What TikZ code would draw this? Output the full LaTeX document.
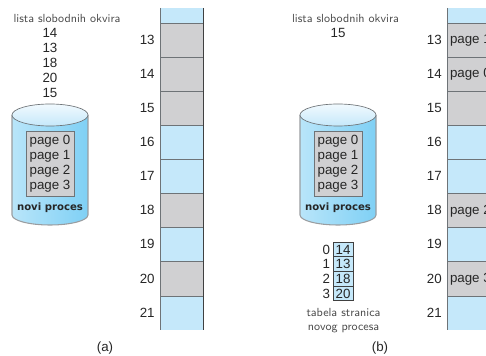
\documentclass[tikz,border=0pt]{standalone}
\usepackage{fontspec}
\setmainfont{Liberation Sans}
\newfontfamily\boldnote{DejaVu Sans}
\usetikzlibrary{positioning}
\definecolor{memblue}{HTML}{C5E8FA}
\definecolor{memgray}{HTML}{D0D0D2}
\definecolor{lineGray}{HTML}{6E7377}
\definecolor{diskedge}{HTML}{7FD0F5}
\definecolor{disklight}{HTML}{E8F6FE}
\tikzset{
  basic/.style   = {inner sep=0pt, outer sep=0pt},
  mem/.style     = {basic, minimum width=32.25pt, minimum height=25.6pt},
  memtop/.style  = {mem, minimum height=11.25pt},
  num/.style     = {basic, font=\fontsize{10}{12}\selectfont, text=black!85},
  note/.style    = {basic, font=\sffamily\fontsize{8.8}{10.5}\selectfont, text=black!70, align=center},
  pagebox/.style = {basic, draw=lineGray, line width=0.7pt, fill=memgray, align=center,
                    font=\fontsize{10}{11.25}\selectfont, text=black!85,
                    minimum width=36pt, minimum height=48.75pt,
                    execute at begin node={\rule{0pt}{10.2pt}}},
  cell/.style    = {basic, draw=black!75, line width=0.5pt, fill=memblue, minimum width=15pt,
                    minimum height=11pt, font=\fontsize{10}{11}\selectfont, text=black!85}
}

\begin{document}
\begin{tikzpicture}[x=0.75pt,y=-0.75pt]
\useasboundingbox (0,0) rectangle (486,356);
\clip (0,0) rectangle (486,356);

% the two cases, a on the left and b on the right
\foreach \s/\dx/\mx in {a/50/160,b/338/447} {
  % disk with the new process
  \shade[left color=diskedge!55, middle color=disklight, right color=diskedge]
    (\dx-38,115) -- (\dx-38,215) arc[start angle=180, end angle=0, x radius=38, y radius=10]
    -- (\dx+38,115) -- cycle;
  \draw[lineGray!70, line width=0.8pt]
    (\dx-38,115) -- (\dx-38,215) arc[start angle=180, end angle=0, x radius=38, y radius=10]
    -- (\dx+38,115);
  \draw[lineGray, line width=0.5pt, top color=disklight!60, bottom color=memblue]
    (\dx,115) ellipse[x radius=38, y radius=11];
  \node[pagebox] (\s box) at (\dx,163.5) {page 0\\page 1\\page 2\\page 3};
  \node[note, font=\boldnote\bfseries\fontsize{7.6}{9}\selectfont, text=black!85] (\s name) at (\dx,207.5) {novi proces};

  % memory frames
  \node[memtop, anchor=north west, fill=memblue] (\s12) at (\mx,8) {};
  \foreach \n/\col [remember=\n as \prev (initially 12)] in
      {13/memgray,14/memgray,15/memgray,16/memblue,17/memblue,18/memgray,19/memblue,20/memgray,21/memblue} {
    \node[mem, fill=\col, below=0pt of \s\prev] (\s\n) {};
    \node[num, left=4pt of \s\n, yshift=0.4pt] (\s num\n) {\n};
    \draw[lineGray, line width=0.7pt] (\s\n.north west) -- (\s\n.north east);
  }
  \draw[lineGray, line width=0.6pt] (\s12.north west) -- (\s21.south west);
  \draw[black!75, line width=0.6pt] (\s12.north east) -- (\s21.south east);
}

% free frame lists
\node[note] (lista a) at (67,18) {lista slobodnih okvira};
\foreach \v [count=\i from 0] in {14,13,18,20,15}
  \node[num] (free\v) at (50,33+15*\i) {\v};
\node[note] (lista b) at (345.5,18) {lista slobodnih okvira};
\node[num] (freeb) at (338,33) {15};

% pages placed in frames of b
\foreach \f/\p in {13/1,14/0,18/2,20/3}
  \node[num, anchor=west, xshift=2.25pt] (page\p) at (b\f.west) {page \p};

% page table
\foreach \i/\v [remember=\i as \prev (initially 0)] in {0/14,1/13,2/18,3/20} {
  \ifnum\i=0
    \node[cell] (t0) at (343,249.5) {\v};
  \else
    \node[cell, below=0pt of t\prev] (t\i) {\v};
  \fi
  \node[num, left=2.25pt of t\i] (idx\i) {\i};
}
\node[note] (tabela) at (343.5,320.5) {tabela stranica\\novog procesa};

\node[num] (capa) at (105,348) {(a)};
\node[num] (capb) at (380,348) {(b)};
\end{tikzpicture}
\end{document}
